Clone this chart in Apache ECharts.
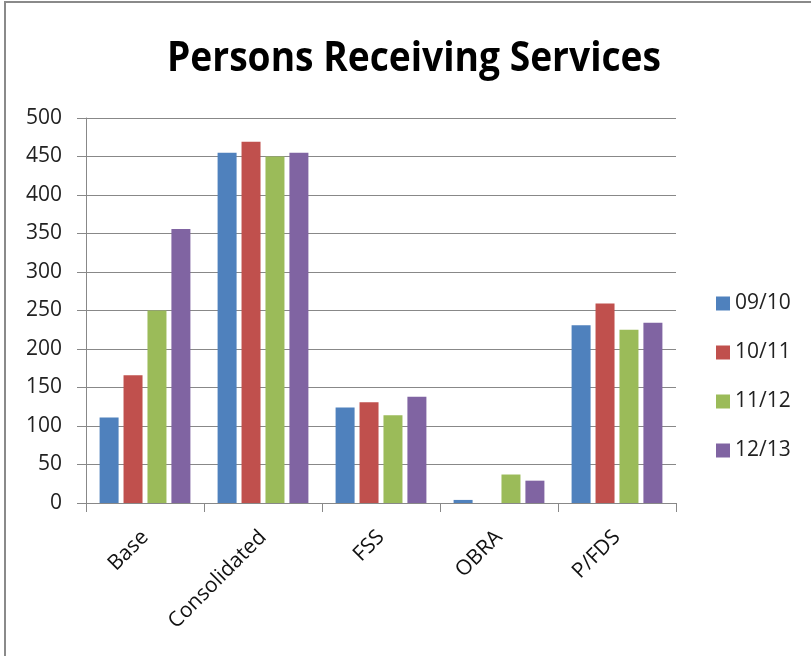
<!DOCTYPE html>
<html>
<head>
<meta charset="utf-8">
<script src="https://cdn.jsdelivr.net/npm/echarts@6/dist/echarts.min.js"></script>
<style>
html,body{margin:0;padding:0;background:#fff;}
#c{width:811px;height:656px;}
</style>
</head>
<body>
<div id="c"></div>
<script>
const categories = ["Base", "Consolidated", "FSS", "OBRA", "P/FDS"];
const seriesNames = ["09/10", "10/11", "11/12", "12/13"];
const v0910 = [111, 455, 124, 4, 231];
const v1011 = [166, 469, 131, null, 259];
const v1112 = [250, 450, 114, 37, 225];
const v1213 = [356, 455, 138, 29, 234];
const yTicks = [0, 50, 100, 150, 200, 250, 300, 350, 400, 450, 500];
const titleText = "Persons Receiving Services";

const colors = ["#4f81bd", "#c0504d", "#9bbb59", "#8064a2"];
const values = [v0910, v1011, v1112, v1213];
const font = "'Open Sans', 'Liberation Sans', sans-serif";

const chart = echarts.init(document.getElementById('c'));
chart.setOption({
  animation: false,
  backgroundColor: '#fff',
  graphic: [{
    type: 'rect', silent: true, z: -1,
    shape: { x: 5, y: 2, width: 830, height: 700 },
    style: { fill: 'none', stroke: '#8a8a8a', lineWidth: 2 }
  }, {
    type: 'text', silent: true,
    x: 414, y: 59,
    scaleX: 0.885,
    style: {
      text: titleText,
      fontFamily: font, fontWeight: 'bold', fontSize: 42, fill: '#000',
      align: 'center', verticalAlign: 'middle'
    }
  }],
  legend: {
    orient: 'vertical',
    left: 716,
    top: 293,
    padding: 0,
    itemWidth: 14,
    itemHeight: 14,
    itemGap: 28,
    icon: 'rect',
    textStyle: { fontFamily: font, fontSize: 21, color: '#222' },
    data: seriesNames
  },
  grid: { left: 86, right: 135, top: 118, bottom: 153 },
  xAxis: {
    type: 'category',
    data: categories,
    axisLine: { lineStyle: { color: '#888', width: 1 } },
    axisTick: { show: true, length: 9, lineStyle: { color: '#888' } },
    axisLabel: { rotate: 45, fontFamily: font, fontSize: 21, color: '#111', margin: 31 }
  },
  yAxis: {
    type: 'value',
    min: 0, max: 500, interval: 50,
    axisLine: { show: true, lineStyle: { color: '#888', width: 1 } },
    axisTick: { show: true, length: 9, lineStyle: { color: '#888' } },
    splitLine: { lineStyle: { color: '#888', width: 1 } },
    axisLabel: {
      fontFamily: font, fontSize: 21, color: '#222', margin: 24,
      formatter: function (v) { return yTicks.indexOf(v) >= 0 ? String(v) : ''; }
    }
  },
  series: seriesNames.map((n, i) => ({
    name: n,
    type: 'bar',
    data: values[i],
    barWidth: 19,
    barGap: '26%',
    itemStyle: { color: colors[i] }
  }))
});
</script>
</body>
</html>
